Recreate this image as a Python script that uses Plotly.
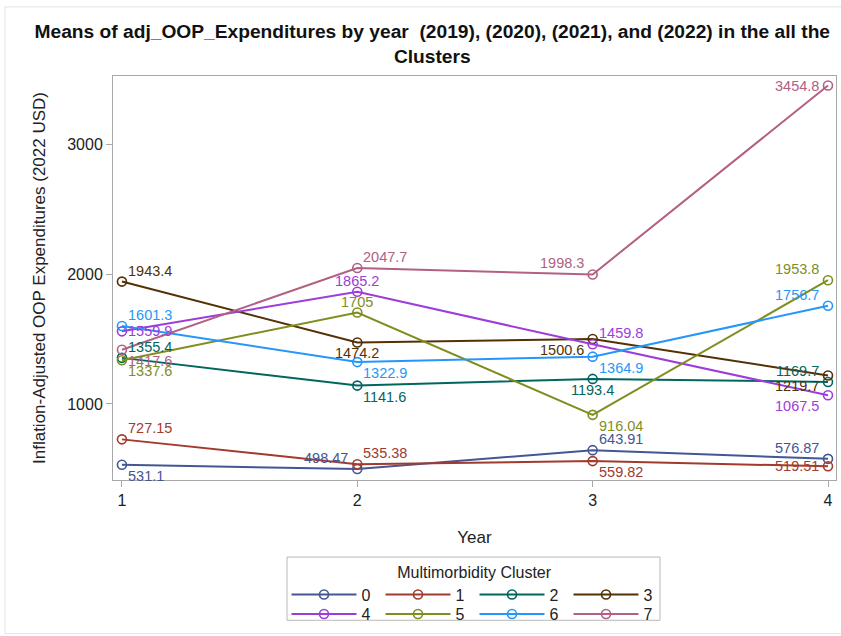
import plotly.graph_objects as go

# Mean inflation-adjusted out-of-pocket expenditures per cluster, years 1-4
years = [1, 2, 3, 4]
clusters = ["0", "1", "2", "3", "4", "5", "6", "7"]
cluster_0 = [531.1, 498.47, 643.91, 576.87]
cluster_1 = [727.15, 535.38, 559.82, 519.51]
cluster_2 = [1355.4, 1141.6, 1193.4, 1169.7]
cluster_3 = [1943.4, 1474.2, 1500.6, 1219.7]
cluster_4 = [1559.9, 1865.2, 1459.8, 1067.5]
cluster_5 = [1337.6, 1705, 916.04, 1953.8]
cluster_6 = [1601.3, 1322.9, 1364.9, 1756.7]
cluster_7 = [1417.6, 2047.7, 1998.3, 3454.8]
series = [cluster_0, cluster_1, cluster_2, cluster_3,
          cluster_4, cluster_5, cluster_6, cluster_7]

colors = ["#445694", "#A23A2E", "#01665E", "#543005",
          "#9D3CDB", "#7F8E1F", "#2597FA", "#B26084"]

# label placement per point: r/l = right/left, a/b = above/below, c = centred
placements = [
    ["rb", "la", "ra", "la"],
    ["ra", "ra", "rb", "l"],
    ["ra", "rb", "cb", "la"],
    ["ra", "cb", "lb", "lb"],
    ["r", "ca", "ra", "lb"],
    ["rb", "ca", "rb", "la"],
    ["ra", "rb", "rb", "la"],
    ["rb", "ra", "la", "l"],
]

FONT = "Liberation Sans, Arial, sans-serif"


def fmt(v):
    return f"{v:.5g}"


fig = go.Figure()
annotations = []
for i, (name, vals, col) in enumerate(zip(clusters, series, colors)):
    fig.add_trace(go.Scatter(
        x=years, y=vals, name=name, mode="lines+markers",
        line=dict(color=col, width=2),
        marker=dict(symbol="circle-open", size=9, color=col,
                    line=dict(width=1.6, color=col)),
        legend="legend" if i < 4 else "legend2",
    ))
    for x, v, p in zip(years, vals, placements[i]):
        h, vpos = p[0], p[1:]
        xanchor = {"r": "left", "l": "right", "c": "center"}[h]
        xshift = {"r": 4, "l": -7, "c": 0}[h]
        if vpos == "a":
            yanchor, yshift = "bottom", 1
        elif vpos == "b":
            yanchor, yshift = "top", -1
        else:
            yanchor, yshift = "middle", 0
        annotations.append(dict(
            x=x, y=v, xref="x", yref="y", text=fmt(v), showarrow=False,
            xanchor=xanchor, yanchor=yanchor, xshift=xshift, yshift=yshift,
            font=dict(family=FONT, size=14.5, color=col),
        ))

frame_col = "#a8a8a8"
text_col = "#222222"

fig.update_layout(
    width=841, height=636,
    margin=dict(l=113, r=5, t=76, b=151),
    paper_bgcolor="white", plot_bgcolor="white",
    font=dict(family=FONT, color=text_col),
    title=dict(
        text="<b>Means of adj_OOP_Expenditures by year  (2019), (2020), (2021), and (2022) in the all the<br>Clusters</b>",
        x=0.514, xanchor="center", xref="container", y=0.94, yanchor="top", yref="container",
        font=dict(family=FONT, size=19.2, color="#111111"),
    ),
    xaxis=dict(
        range=[0.962, 4.034], tickvals=years, ticktext=[str(y) for y in years],
        showgrid=False, zeroline=False,
        showline=True, linecolor=frame_col, linewidth=1, mirror=True,
        ticks="outside", ticklen=6, tickcolor=frame_col,
        tickfont=dict(size=16, color=text_col),
        title=dict(text="Year", font=dict(size=17, color=text_col), standoff=22),
    ),
    yaxis=dict(
        range=[414, 3528], tickvals=[1000, 2000, 3000],
        showgrid=False, zeroline=False,
        showline=True, linecolor=frame_col, linewidth=1, mirror=True,
        ticks="outside", ticklen=6, tickcolor=frame_col,
        tickfont=dict(size=16, color=text_col),
        title=dict(text="Inflation-Adjusted OOP Expenditures (2022 USD)",
                   font=dict(size=17, color=text_col), standoff=17),
    ),
    legend=dict(
        orientation="h", x=0.5, xanchor="center", y=-0.19, yanchor="top",
        bgcolor="rgba(0,0,0,0)", borderwidth=0,
        itemwidth=65, entrywidth=14, entrywidthmode="pixels",
        title=dict(text="Multimorbidity Cluster", side="top center",
                   font=dict(size=16, color=text_col)),
        font=dict(size=16, color=text_col),
        tracegroupgap=0,
    ),
    legend2=dict(
        orientation="h", x=0.5, xanchor="center", y=-0.29, yanchor="top",
        bgcolor="rgba(0,0,0,0)", borderwidth=0,
        itemwidth=65, entrywidth=14, entrywidthmode="pixels",
        font=dict(size=16, color=text_col),
        tracegroupgap=0,
    ),
    annotations=annotations,
    shapes=[
        # legend frame
        dict(type="rect", xref="paper", yref="paper",
             x0=0.2407, x1=0.7566, y0=-0.3472, y1=-0.1907,
             line=dict(color="#b8b8b8", width=1), fillcolor="rgba(0,0,0,0)"),
        # outer graph border
        dict(type="rect", xref="paper", yref="paper",
             x0=-0.1494, x1=1.02, y0=-0.38, y1=1.171,
             line=dict(color="#e4e4e4", width=1), fillcolor="rgba(0,0,0,0)"),
    ],
    showlegend=True,
)

fig.write_html("out.html")
